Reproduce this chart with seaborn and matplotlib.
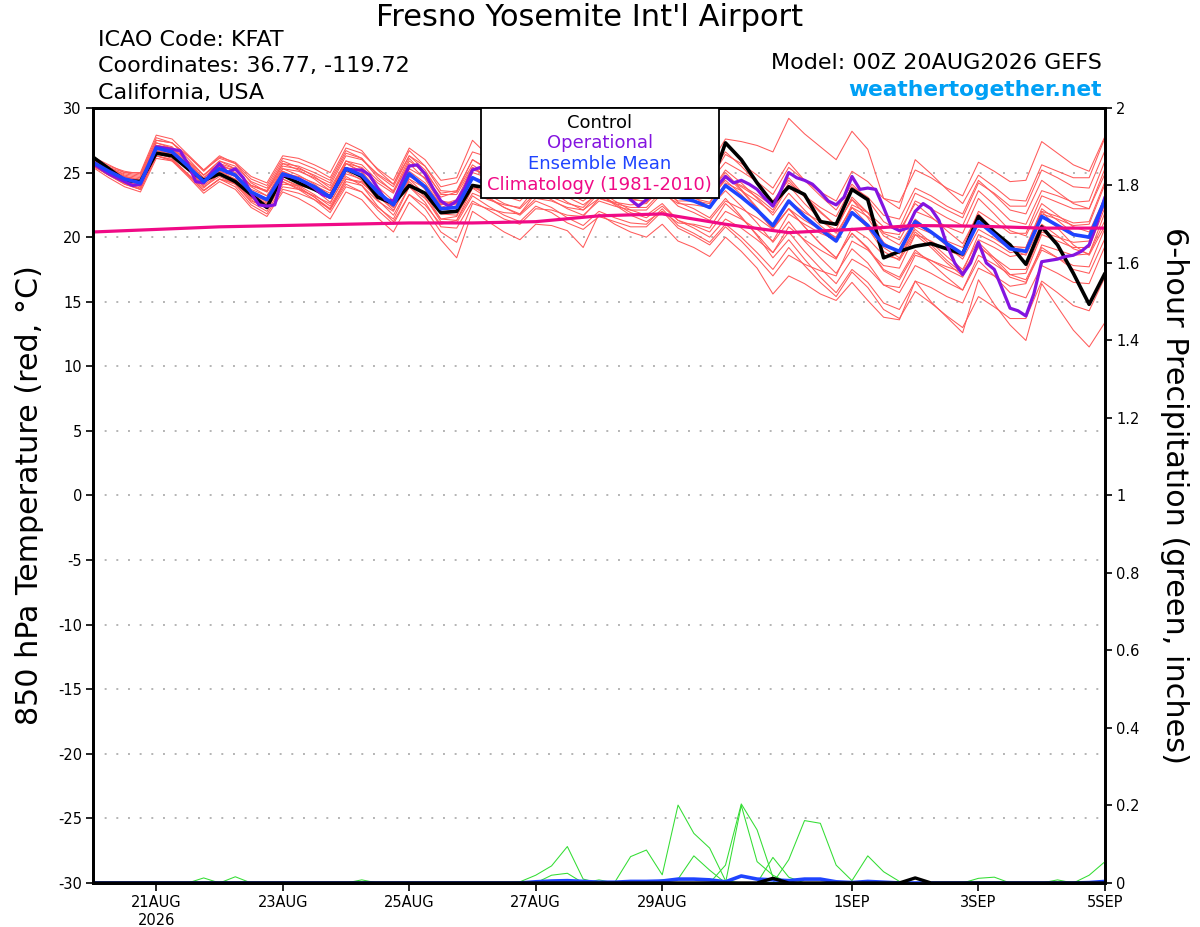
import matplotlib
matplotlib.use("Agg")
import matplotlib.pyplot as plt
from matplotlib.patches import Rectangle
from matplotlib.ticker import FormatStrFormatter
import numpy as np
import pandas as pd
import seaborn as sns

# forecast hours from 00Z 20AUG2026 (GEFS 6-hourly, operational GFS 3-hourly, climatology daily)
fhr6 = np.arange(0, 385, 6)
fhr3 = np.arange(0, 385, 3)
fhr24 = np.arange(0, 385, 24)

tick_hours = [24, 72, 120, 168, 216, 288, 336, 384]
tick_labels = ["21AUG\n2026", "23AUG", "25AUG", "27AUG", "29AUG", "1SEP", "3SEP", "5SEP"]

# 850 hPa temperature (C)
control_t = [26.2, 25.3, 24.4, 24.3, 26.5, 26.3, 25.3, 24.4, 24.9, 24.3, 23.3, 22.3,
             24.8, 24.2, 23.7, 23.1, 25.3, 24.7, 23.1, 22.6, 24.0, 23.4, 21.9, 22.0,
             24.0, 23.8, 23.4, 23.2, 24.5, 24.2, 23.6, 23.3, 24.8, 24.4, 23.8, 23.4,
             25.0, 24.6, 24.0, 23.8, 27.3, 26.0, 24.2, 22.6, 23.9, 23.3, 21.2, 21.0,
             23.7, 22.9, 18.4, 18.9, 19.3, 19.5, 19.1, 18.7, 21.6, 20.4, 19.4, 17.9,
             20.8, 19.4, 17.2, 14.8, 17.2]
mean_t = [25.8, 25.1, 24.5, 24.2, 26.9, 26.6, 25.5, 24.3, 25.3, 24.8, 23.5, 22.9,
          24.9, 24.5, 23.9, 23.1, 25.3, 24.8, 23.5, 22.5, 24.9, 23.9, 22.2, 22.3,
          24.6, 24.0, 23.5, 23.2, 24.6, 24.2, 23.6, 23.2, 24.4, 23.8, 23.3, 23.1,
          24.2, 23.1, 22.8, 22.3, 24.0, 23.1, 22.1, 20.9, 22.8, 21.6, 20.6, 19.7,
          21.9, 20.9, 19.4, 18.9, 21.2, 20.4, 19.5, 18.7, 21.2, 20.2, 19.1, 18.9,
          21.6, 20.9, 20.2, 20.0, 22.9]
oper_t = [25.7, 25.3, 24.9, 24.6, 24.3, 24.0, 24.1, 25.5,
          27.0, 26.9, 26.8, 26.7, 25.7, 24.3, 24.2, 25.0,
          25.7, 25.0, 25.3, 24.6, 23.4, 22.5, 22.4, 22.5,
          24.8, 24.7, 24.5, 24.2, 23.8, 23.3, 23.1, 24.2,
          25.3, 25.2, 25.2, 24.8, 23.8, 22.9, 22.8, 24.2,
          25.5, 25.6, 24.9, 23.8, 22.8, 22.4, 22.8, 23.8,
          25.2, 25.4, 25.0, 24.4, 24.0, 23.6, 23.4, 23.8,
          24.8, 25.1, 24.9, 24.4, 23.9, 23.5, 23.3, 23.6,
          24.6, 24.9, 24.6, 23.9, 22.9, 22.4, 22.9, 23.5,
          24.6, 24.9, 24.5, 24.0, 23.6, 23.4, 23.5, 24.0,
          24.7, 24.2, 24.4, 24.1, 23.7, 23.0, 22.4, 23.6,
          25.0, 24.6, 24.4, 24.1, 23.5, 22.8, 22.5, 23.1,
          24.7, 23.7, 23.8, 23.7, 22.3, 20.8, 20.5, 20.7,
          22.0, 22.6, 22.2, 21.3, 19.4, 18.0, 17.1, 18.0,
          19.6, 18.0, 17.5, 16.0, 14.5, 14.3, 13.9, 15.6,
          18.1, 18.2, 18.3, 18.5, 18.6, 18.9, 19.4, 21.1,
          23.1]
clim_t = [20.4, 20.6, 20.8, 20.9, 21.0, 21.1, 21.1, 21.2, 21.65, 21.8, 21.0, 20.35,
          20.6, 20.9, 20.85, 20.7, 20.7]

# ensemble perturbation members p01-p20
p01 = [25.8,25.4,25.0,25.0, 27.9,27.6,26.4,25.2, 26.1,25.7,24.5,24.0, 26.1,25.8,25.3,24.6, 26.9,26.5,25.3,24.4, 26.9,26.0,24.4,24.6, 27.5,26.3,25.7,25.3, 26.6,26.1,25.4,24.9, 26.0,25.6,25.3,25.3, 26.6,25.8,25.8,25.6, 27.6,27.4,27.1,26.6, 29.2,28.0,27.0,26.0, 28.2,26.8,23.0,22.2, 26.0,24.9,23.7,22.6, 24.8,23.9,22.9,22.8, 25.6,25.1,24.6,24.6, 27.7]
p02 = [25.6,24.8,24.1,23.7, 26.3,25.9,24.7,23.4, 24.3,23.7,22.3,21.6, 23.5,23.0,22.3,21.4, 23.5,22.9,21.5,20.4, 22.7,21.6,19.8,18.4, 22.0,21.2,20.4,19.8, 21.0,20.9,20.5,19.2, 21.8,21.0,20.4,20.0, 21.0,19.7,19.2,18.5, 20.0,18.9,17.6,15.6, 17.0,16.4,15.6,15.1, 16.5,15.1,13.8,13.6, 16.6,15.0,13.8,12.6, 16.7,14.8,13.2,12.0, 16.4,14.6,12.8,11.5, 13.4]
p03 = [26.1,25.5,25.1,24.9, 27.7,27.3,26.1,24.8, 25.7,25.3,24.0,23.5, 25.5,25.3,24.8,24.2, 26.5,26.1,24.8,23.9, 26.3,25.5,23.9,24.2, 26.6,26.2,25.8,25.7, 27.2,26.9,26.4,26.1, 27.4,26.7,26.0,25.7, 26.6,25.4,24.9,24.3, 25.8,25.1,24.3,23.3, 25.4,24.4,23.5,22.8, 25.1,24.3,23.0,22.7, 25.2,24.6,23.8,23.2, 25.8,25.1,24.3,24.4, 27.4,26.5,25.6,25.1, 27.8]
p04 = [25.5,24.8,24.2,23.8, 26.5,26.1,24.9,23.6, 24.5,24.1,22.8,22.3, 24.3,23.7,22.9,21.9, 23.9,23.5,22.3,21.4, 23.9,23.0,21.4,21.6, 24.0,23.1,22.3,21.7, 22.8,22.3,21.5,20.9, 22.0,21.5,21.1,21.0, 22.2,20.9,20.3,19.6, 21.0,20.0,18.8,17.5, 19.2,17.8,16.5,15.4, 17.3,16.1,14.4,13.7, 15.8,14.9,13.9,13.0, 15.4,14.6,13.7,13.7, 16.6,15.7,14.7,14.3, 16.9]
p05 = [26.0,25.4,24.8,24.6, 27.3,27.0,25.8,24.6, 25.5,25.2,24.0,23.6, 25.7,25.2,24.5,23.6, 25.7,25.0,23.5,22.3, 24.5,23.3,21.4,21.3, 23.4,22.9,22.5,22.3, 23.8,23.6,23.2,23.0, 24.4,24.0,23.7,23.7, 25.0,24.0,23.8,23.4, 25.2,24.2,23.0,21.7, 23.4,22.1,20.9,19.9, 21.9,20.7,18.9,18.2, 20.2,19.2,18.0,17.0, 19.2,18.4,17.5,17.5, 20.4,20.0,19.6,19.7, 22.9]
p06 = [25.7,25.1,24.6,24.3, 27.1,26.9,25.9,24.8, 25.9,25.3,23.9,23.2, 25.1,24.5,23.7,22.7, 24.7,24.0,22.4,21.2, 23.3,22.2,20.4,19.6, 22.6,22.2,21.9,21.8, 23.4,23.1,22.6,22.3, 23.6,22.8,22.1,21.7, 22.6,21.3,20.7,20.0, 21.4,20.7,19.8,18.8, 20.8,19.8,19.0,18.3, 20.7,19.9,18.6,18.3, 20.8,20.3,19.7,19.2, 22.0,21.2,20.3,20.3, 23.2,22.7,22.2,22.2, 25.3]
p07 = [25.9,25.1,24.5,24.1, 26.7,26.4,25.2,24.0, 24.9,24.3,22.9,22.2, 24.1,24.0,23.7,23.2, 25.7,25.4,24.2,23.4, 25.9,25.0,23.4,23.6, 26.0,25.3,24.7,24.3, 25.6,25.1,24.3,23.8, 24.8,24.4,24.1,24.1, 25.4,24.6,24.6,24.4, 26.4,25.7,24.8,23.8, 25.8,24.4,23.2,22.1, 24.1,22.9,21.2,20.5, 22.6,21.6,20.5,19.5, 21.8,20.5,19.1,18.6, 21.0,20.1,19.1,18.7, 21.3]
p08 = [26.2,25.6,25.0,24.8, 27.5,27.3,26.3,25.1, 26.2,25.8,24.7,24.2, 26.3,26.1,25.6,25.0, 27.3,26.7,25.2,24.1, 26.3,25.2,23.3,23.3, 25.4,24.7,24.0,23.6, 24.8,24.2,23.4,22.8, 23.8,23.3,22.9,22.8, 24.0,23.1,23.0,22.7, 24.6,23.9,23.1,22.1, 24.2,23.2,22.3,21.6, 23.9,23.1,21.7,21.4, 23.8,23.2,22.4,21.8, 24.4,23.3,22.1,21.8, 24.4,23.5,22.6,22.2, 24.9]
p09 = [25.4,24.6,23.9,23.5, 26.1,25.9,24.9,23.8, 24.9,24.5,23.3,22.8, 24.9,24.7,24.2,23.6, 25.9,25.3,23.9,22.8, 25.1,24.2,22.5,22.7, 25.0,24.6,24.3,24.2, 25.8,25.6,25.1,24.9, 26.2,25.4,24.7,24.3, 25.2,23.8,23.1,22.3, 23.6,22.4,21.1,19.6, 21.2,19.7,18.4,17.2, 19.1,18.0,16.3,15.7, 17.8,17.2,16.5,15.9, 18.6,17.9,17.1,17.2, 20.2,19.7,19.2,19.2, 22.3]
p10 = [25.8,25.2,24.7,24.5, 27.3,26.9,25.6,24.3, 25.1,24.5,23.1,22.4, 24.3,23.8,23.1,22.2, 24.3,24.0,22.8,22.0, 24.5,23.8,22.3,22.7, 25.2,24.9,24.6,24.6, 26.2,25.9,25.4,25.1, 26.4,25.8,25.2,25.0, 26.0,24.7,24.2,23.5, 25.0,23.7,22.3,20.7, 22.2,20.8,19.5,18.4, 20.3,19.2,17.5,16.9, 19.0,18.0,16.9,15.9, 18.2,17.0,15.7,15.3, 17.8,17.2,16.5,16.4, 19.3]
p11 = [26.0,25.2,24.4,24.0, 26.5,26.3,25.3,24.2, 25.3,24.9,23.7,23.2, 25.3,25.1,24.6,24.0, 26.3,26.0,24.9,24.1, 26.7,25.5,23.6,23.5, 25.6,24.8,24.0,23.5, 24.6,24.0,23.1,22.5, 23.4,22.6,21.9,21.5, 22.4,21.3,20.9,20.4, 22.0,21.4,20.6,19.7, 21.8,21.0,20.3,19.8, 22.3,21.6,20.4,20.2, 22.8,22.2,21.5,20.9, 23.6,22.5,21.3,21.0, 23.6,23.2,22.7,22.8, 25.9]
p12 = [25.6,25.0,24.4,24.2, 26.9,26.7,25.7,24.6, 25.7,25.0,23.5,22.7, 24.5,24.0,23.3,22.4, 24.5,24.3,23.3,22.6, 25.3,24.6,23.1,23.5, 26.0,25.2,24.5,24.0, 25.2,24.7,23.9,23.4, 24.4,23.7,23.0,22.7, 23.6,22.8,22.8,22.6, 24.6,24.0,23.3,22.4, 24.6,23.2,22.0,20.9, 22.9,21.5,19.6,18.7, 20.6,19.6,18.5,17.5, 19.8,19.2,18.5,18.7, 21.8,21.4,20.9,21.0, 24.1]
p13 = [25.9,25.3,24.9,24.7, 27.5,27.3,26.3,25.2, 26.3,25.7,24.2,23.5, 25.3,24.8,24.1,23.2, 25.3,24.7,23.2,22.1, 24.3,23.1,21.2,21.1, 23.2,22.4,21.7,21.2, 22.4,21.9,21.1,20.6, 21.6,21.2,20.8,20.8, 22.0,21.1,21.0,20.7, 22.6,21.5,20.2,18.8, 20.4,18.9,17.6,16.4, 18.3,17.6,16.3,16.1, 18.6,18.2,17.7,17.3, 20.2,19.6,18.8,19.0, 22.0,21.6,21.1,21.2, 24.3]
p14 = [25.5,24.8,24.3,24.0, 26.7,26.5,25.5,24.4, 25.5,25.2,24.0,23.6, 25.7,25.5,25.0,24.4, 26.7,26.1,24.6,23.5, 25.7,24.5,22.6,22.5, 24.6,23.9,23.2,22.8, 24.0,23.9,23.5,23.4, 24.8,24.5,24.3,24.4, 25.8,24.4,23.8,23.0, 24.4,23.3,22.0,20.6, 22.2,21.3,20.6,20.0, 22.5,21.9,20.8,20.7, 23.4,22.8,22.1,21.5, 24.2,23.4,22.4,22.4, 25.2,24.6,23.9,23.8, 26.7]
p15 = [26.1,25.3,24.7,24.3, 26.9,26.5,25.2,23.9, 24.7,24.1,22.7,22.0, 23.9,23.7,23.2,22.6, 24.9,24.5,23.3,22.4, 24.9,23.8,21.9,21.9, 24.0,23.3,22.6,22.2, 23.4,22.9,22.2,21.7, 22.8,22.4,22.1,22.1, 23.4,22.6,22.5,22.3, 24.2,23.6,22.8,21.9, 24.0,22.6,21.4,20.3, 22.3,21.0,19.2,18.4, 20.4,19.4,18.2,17.2, 19.4,18.2,16.9,16.5, 19.0,18.4,17.8,17.7, 20.7]
p16 = [25.7,24.9,24.3,23.9, 26.5,26.3,25.2,24.1, 25.1,24.7,23.5,23.0, 25.1,24.6,23.9,23.0, 25.1,24.4,22.9,21.7, 23.9,22.7,20.8,20.7, 22.8,22.1,21.4,21.0, 22.2,22.1,21.7,21.6, 23.0,22.7,22.5,22.6, 24.0,22.7,22.2,21.5, 23.0,21.6,20.1,18.4, 19.8,18.3,16.9,15.7, 17.5,16.5,14.9,14.4, 16.6,16.1,15.4,14.9, 17.6,17.0,16.2,16.4, 19.4,19.0,18.6,18.7, 21.9]
p17 = [26.0,25.3,24.7,24.4, 27.1,26.9,25.9,24.8, 25.9,25.5,24.3,23.8, 25.9,25.4,24.7,23.8, 25.9,25.6,24.4,23.6, 26.1,24.8,22.8,22.6, 24.6,24.3,24.1,24.1, 25.8,25.7,25.3,25.2, 26.6,26.2,25.9,25.9, 27.2,26.0,25.6,25.0, 26.6,25.5,24.2,22.8, 24.4,23.1,21.9,20.9, 22.9,21.9,20.3,19.8, 22.0,21.5,20.8,20.3, 23.0,21.8,20.5,20.1, 22.6,21.7,20.8,20.4, 23.1]
p18 = [25.6,24.8,24.1,23.7, 26.3,26.0,24.8,23.6, 24.5,24.2,23.0,22.6, 24.7,24.5,24.0,23.4, 25.7,25.1,23.6,22.5, 24.7,24.0,22.5,22.9, 25.4,24.5,23.7,23.1, 24.2,23.6,22.7,22.1, 23.0,22.6,22.3,22.3, 23.6,22.4,21.9,21.3, 22.8,22.2,21.5,20.6, 22.8,21.9,21.2,20.6, 23.1,21.9,20.1,19.4, 21.4,20.4,19.3,18.3, 20.6,19.9,19.1,19.2, 22.2,21.3,20.3,19.9, 22.5]
p19 = [25.8,25.2,24.6,24.4, 27.1,26.8,25.6,24.4, 25.3,24.7,23.3,22.6, 24.5,23.9,23.1,22.1, 24.1,23.5,22.1,21.0, 23.3,22.5,21.0,21.3, 23.8,23.5,23.2,23.2, 24.8,24.7,24.3,24.2, 25.6,24.8,24.1,23.7, 24.6,23.6,23.4,23.0, 24.8,23.6,22.2,20.7, 22.2,20.8,19.5,18.4, 20.3,19.1,17.4,16.7, 18.8,18.2,17.5,16.9, 19.6,18.4,17.1,16.7, 19.2,18.4,17.5,17.2, 19.9]
p20 = [25.7,24.9,24.2,23.7, 26.3,26.0,24.8,23.6, 24.5,23.9,22.5,21.8, 23.7,23.4,22.9,22.2, 24.5,24.2,23.1,22.3, 24.9,23.7,21.8,21.7, 23.8,23.0,22.3,21.8, 23.0,22.8,22.3,22.1, 23.4,22.5,21.7,21.2, 22.0,20.7,20.1,19.4, 20.8,19.7,18.4,17.0, 18.6,17.9,17.4,17.0, 19.7,19.0,17.8,17.6, 20.2,19.7,19.0,18.5, 21.2,20.3,19.3,19.2, 22.0,20.7,19.4,18.6, 20.9]

# 6-hour precipitation (inches), members that show any rain; the rest stay at 0
g01 = [0.0]*33 + [0.002, 0.068, 0.085, 0.021, 0.201, 0.128, 0.090, 0.006] + [0.0]*24
g02 = [0.0]*39 + [0.0, 0.046, 0.204, 0.137, 0.015] + [0.0]*21
g03 = [0.0]*41 + [0.200, 0.055, 0.020] + [0.0]*21
g04 = [0.0]*36 + [0.008, 0.010, 0.070, 0.033, 0.0] + [0.0]*24
g05 = [0.0]*42 + [0.0, 0.066, 0.015] + [0.0]*20
g06 = [0.0]*43 + [0.0, 0.060, 0.161, 0.154, 0.046, 0.006, 0.070, 0.029, 0.004] + [0.0]*13
g07 = [0.0]*27 + [0.003, 0.020, 0.044, 0.094, 0.010] + [0.0]*33
g08 = [0.0]*29 + [0.020, 0.025] + [0.0]*34
g09 = [0.0]*63 + [0.020, 0.055]
g10 = [0.0]*56 + [0.012, 0.015] + [0.0]*7
g11 = [0.0]*61 + [0.008] + [0.0]*3
g12 = [0.0]*7 + [0.013] + [0.0]*57
g13 = [0.0]*9 + [0.016] + [0.0]*55
g14 = [0.0]*17 + [0.008] + [0.0]*47
g15 = [0.0]*32 + [0.008] + [0.0]*32
g_dry = [0.0]*65

mean_p = ([0.0]*28 + [0.003, 0.005, 0.006, 0.004, 0.002, 0.002, 0.004, 0.004, 0.005, 0.010,
                      0.010, 0.008, 0.003, 0.018, 0.010, 0.008, 0.006, 0.010, 0.010, 0.003,
                      0.001, 0.004, 0.002] + [0.0]*12 + [0.001, 0.004])
control_p = [0.0]*43 + [0.012] + [0.0]*8 + [0.013] + [0.0]*12

members = [p01, p02, p03, p04, p05, p06, p07, p08, p09, p10,
           p11, p12, p13, p14, p15, p16, p17, p18, p19, p20]
rain = [g01, g02, g03, g04, g05, g06, g07, g08, g09, g10,
        g11, g12, g13, g14, g15, g_dry, g_dry, g_dry, g_dry, g_dry]

for k, m in enumerate(members):
    assert len(m) == 65, ("member", k, len(m))
for k, m in enumerate(rain):
    assert len(m) == 65, ("rain", k, len(m))

ens = pd.DataFrame({
    "fhr": np.tile(fhr6, len(members)),
    "temp": np.concatenate(members),
    "member": np.repeat(np.arange(len(members)), len(fhr6)),
})
ens_rain = pd.DataFrame({
    "fhr": np.tile(fhr6, len(rain)),
    "precip": np.concatenate(rain),
    "member": np.repeat(np.arange(len(rain)), len(fhr6)),
})

sns.set_style("white")
plt.rcParams["font.family"] = ["DejaVu Sans"]
plt.rcParams["axes.unicode_minus"] = False
for key in ("text.color", "axes.labelcolor", "xtick.color", "ytick.color", "axes.edgecolor"):
    plt.rcParams[key] = "black"

RED = "#ff5a5a"
PURPLE = "#8414e0"
BLUE = "#1f44ff"
PINK = "#f00a86"
GREEN = "#33dd33"

fig = plt.figure(figsize=(12, 9.27), dpi=100)
ax = fig.add_axes([0.0775, 0.0475, 0.8433, 0.836])

# temperature
sns.lineplot(data=ens, x="fhr", y="temp", units="member", estimator=None,
             color=RED, lw=0.75, ax=ax, legend=False)
sns.lineplot(x=fhr6, y=control_t, color="black", lw=2.6, ax=ax)
sns.lineplot(x=fhr3, y=oper_t, color=PURPLE, lw=2.3, ax=ax)
sns.lineplot(x=fhr6, y=mean_t, color=BLUE, lw=2.6, ax=ax)
sns.lineplot(x=fhr24, y=clim_t, color=PINK, lw=2.3, ax=ax)

ax.set_xlim(0, 384)
ax.set_ylim(-30, 30)
ax.set_yticks(np.arange(-30, 31, 5))
ax.set_xticks(tick_hours)
ax.set_xticklabels(tick_labels)
ax.set_xlabel("")
ax.set_ylabel("")
ax.yaxis.grid(True, color="#b4b4b4", linestyle=(0, (1, 5)), lw=1.4)
ax.xaxis.grid(False)
ax.tick_params(axis="y", direction="out", length=5, width=1.2, labelsize=10.5, pad=3, left=True)
ax.tick_params(axis="x", direction="out", length=6, width=1.2, labelsize=10.5, pad=3, bottom=True)

# precipitation on the right axis
ax2 = ax.twinx()
sns.lineplot(data=ens_rain, x="fhr", y="precip", units="member", estimator=None,
             color=GREEN, lw=0.75, ax=ax2, legend=False)
sns.lineplot(x=fhr6, y=mean_p, color=BLUE, lw=2.6, ax=ax2)
sns.lineplot(x=fhr6, y=control_p, color="black", lw=2.4, ax=ax2)
ax2.set_ylim(0, 2)
ax2.set_xlim(0, 384)
ax2.set_yticks(np.arange(0, 2.01, 0.2))
ax2.yaxis.set_major_formatter(FormatStrFormatter("%g"))
ax2.set_ylabel("")
ax2.set_xlabel("")
ax2.grid(False)
ax2.tick_params(axis="y", direction="out", length=5, width=1.2, labelsize=10.5, pad=3, right=True)

for a in (ax, ax2):
    for s in a.spines.values():
        s.set_linewidth(2.0)
        s.set_color("black")

# legend box
ax2.add_patch(Rectangle((0.3834, 0.8839), 0.2352, 0.1161, transform=ax2.transAxes,
                        facecolor="white", edgecolor="black", lw=1.3, zorder=10, clip_on=False))
legend_rows = [("Control", "black", 0.981), ("Operational", PURPLE, 0.955),
               ("Ensemble Mean", BLUE, 0.928), ("Climatology (1981-2010)", PINK, 0.900)]
for label, col, yy in legend_rows:
    ax2.text(0.5008, yy, label, color=col, fontsize=13, ha="center", va="center",
             transform=ax2.transAxes, zorder=11)

# header and axis titles
fig.text(0.4917, 0.9806, "Fresno Yosemite Int'l Airport", fontsize=22, ha="center", va="center")
fig.text(0.0817, 0.9569, "ICAO Code: KFAT", fontsize=16, ha="left", va="center")
fig.text(0.0817, 0.9288, "Coordinates: 36.77, -119.72", fontsize=16, ha="left", va="center")
fig.text(0.0817, 0.8997, "California, USA", fontsize=16, ha="left", va="center")
fig.text(0.9183, 0.932, "Model: 00Z 20AUG2026 GEFS", fontsize=16, ha="right", va="center")
fig.text(0.9183, 0.9029, "weathertogether.net", fontsize=15.7, fontweight="bold",
         color="#00a0f5", ha="right", va="center")
fig.text(0.025, 0.466, "850 hPa Temperature (red, \u00b0C)", fontsize=21.7, rotation=90,
         ha="center", va="center")
fig.text(0.979, 0.466, "6-hour Precipitation (green, inches)", fontsize=21.8, rotation=270,
         ha="center", va="center")

fig.savefig("out.png", dpi=100)
